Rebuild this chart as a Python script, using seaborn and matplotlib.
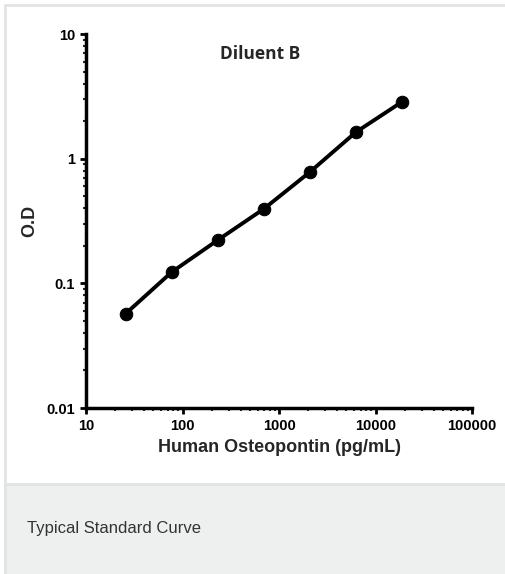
import pandas as pd
import matplotlib.pyplot as plt
import matplotlib.ticker as mticker
from matplotlib.patches import Rectangle
import seaborn as sns

# Standard curve data
concentration = [25.7, 77.2, 231.5, 694.4, 2083.3, 6250, 18750]
od_values = [0.057, 0.123, 0.222, 0.395, 0.78, 1.63, 2.85]
x_ticks = [10, 100, 1000, 10000, 100000]
y_ticks = [0.01, 0.1, 1, 10]

curve_df = pd.DataFrame({'conc': concentration, 'od': od_values})

sns.set_style('ticks')
plt.rcParams['font.family'] = ['Liberation Sans Narrow', 'Liberation Sans', 'DejaVu Sans']

fig = plt.figure(figsize=(5.06, 5.74), dpi=100)
fig.patch.set_facecolor('white')

# card frame and caption band
fig.patches.append(Rectangle((5 / 506, -0.05), 1, 1.05 - 5 / 574, transform=fig.transFigure,
                             facecolor='white', edgecolor='#e2e4e4', linewidth=2, zorder=-10))
fig.patches.append(Rectangle((5 / 506, -0.05), 1, 90 / 574 + 0.05, transform=fig.transFigure,
                             facecolor='#eef0f0', edgecolor='#e2e4e4', linewidth=2, zorder=-10))
fig.text(27 / 506, 1 - 528 / 574, 'Typical Standard Curve', fontsize=12, color='#333333',
         family=['Liberation Sans', 'DejaVu Sans'], va='center', ha='left')

ax = fig.add_axes([86 / 506, 1 - 408 / 574, 386 / 506, 374 / 574])
ax.set_facecolor('none')
ax.set_zorder(5)

sns.lineplot(data=curve_df, x='conc', y='od', ax=ax, color='black', linewidth=2.8,
             marker='o', markersize=9, markeredgecolor='black')

ax.set_xscale('log')
ax.set_yscale('log')
ax.set_xlim(10, 100000)
ax.set_ylim(0.01, 10)
ax.set_xticks(x_ticks)
ax.set_yticks(y_ticks)
ax.set_xticklabels([str(t) for t in x_ticks])
ax.set_yticklabels(['0.01', '0.1', '1', '10'])
ax.xaxis.set_minor_locator(mticker.LogLocator(base=10, subs=range(2, 10)))
ax.yaxis.set_minor_locator(mticker.LogLocator(base=10, subs=range(2, 10)))
ax.xaxis.set_minor_formatter(mticker.NullFormatter())
ax.yaxis.set_minor_formatter(mticker.NullFormatter())

for side in ['top', 'right']:
    ax.spines[side].set_visible(False)
for side in ['left', 'bottom']:
    ax.spines[side].set_linewidth(2.5)
    ax.spines[side].set_color('black')

ax.tick_params(which='major', length=4, width=2, labelsize=10.5, pad=4, colors='black')
ax.tick_params(which='minor', length=2.5, width=1.5)
for lbl in ax.get_xticklabels() + ax.get_yticklabels():
    lbl.set_fontweight('bold')

ax.set_xlabel('Human Osteopontin (pg/mL)', fontsize=13, fontweight='bold', labelpad=4)
ax.set_ylabel('O.D', fontsize=13, fontweight='bold', labelpad=6)
ax.text(0.45, 0.97, 'Diluent B', transform=ax.transAxes, ha='center', va='top',
        fontsize=12.5, fontweight='bold', family=['Open Sans', 'DejaVu Sans'])

fig.savefig('out.png', dpi=100)
